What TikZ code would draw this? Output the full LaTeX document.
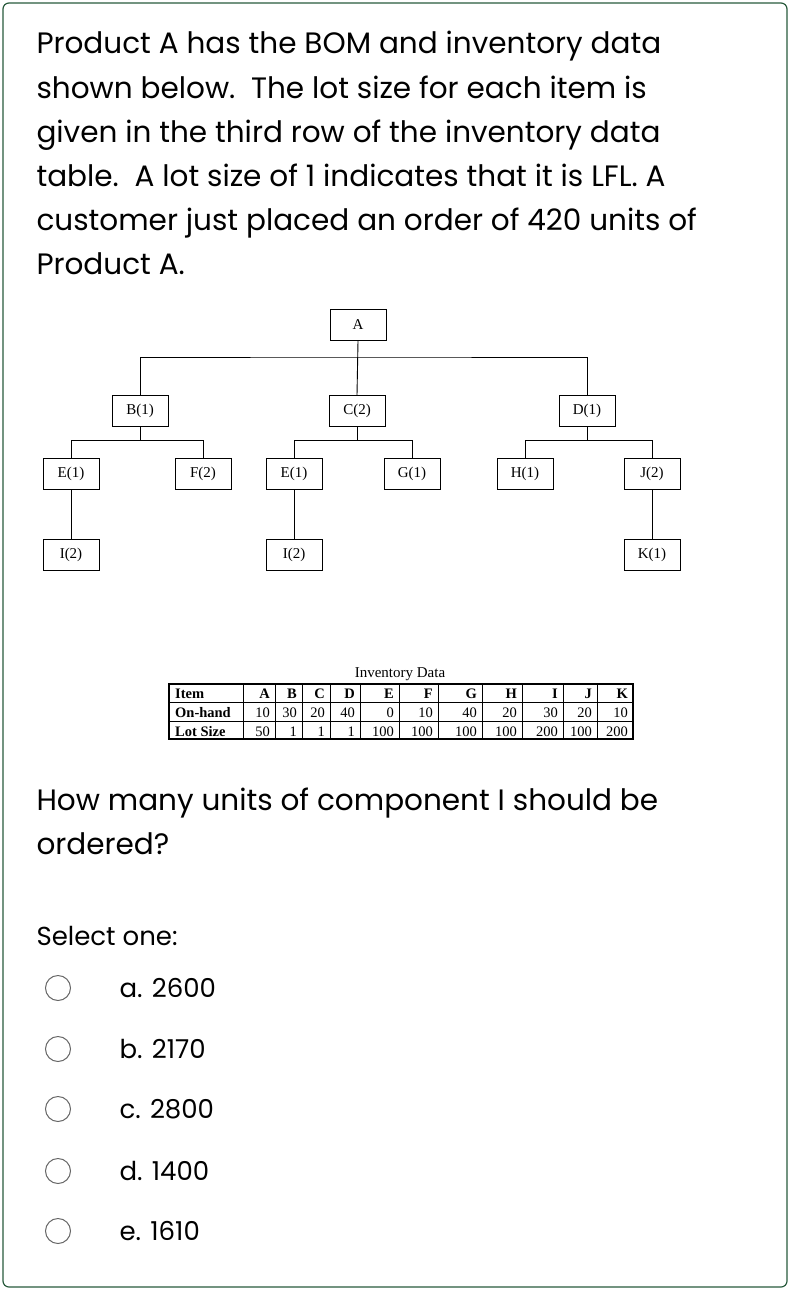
\documentclass[tikz,border=0pt]{standalone}
\usepackage{fontspec}
\setmainfont{Poppins}
\newfontfamily\tms{Liberation Serif}
\begin{document}
\begin{tikzpicture}[x=1pt,y=-1pt,
  bx/.style={draw,line width=0.9pt,minimum width=56pt,minimum height=31pt,inner sep=0pt,font=\tms\fontsize{15}{15}\selectfont},
  ln/.style={line width=0.9pt},
  qt/.style={anchor=base west,font=\fontsize{29.5}{29.5}\selectfont},
  op/.style={anchor=base west,font=\fontsize{26}{26}\selectfont},
  rad/.style={draw=gray!80!black,line width=1pt,circle,minimum size=25pt,inner sep=0pt}]
\useasboundingbox (0,0) rectangle (796,1298);
\draw[rounded corners=6pt,line width=1.2pt,draw={rgb,255:red,40;green,90;blue,60}] (3,3) rectangle (787,1287);
\foreach \t [count=\i] in {Product A has the BOM and inventory data,shown below.\ \ The lot size for each item is,given in the third row of the inventory data,table.\ \ A lot size of 1 indicates that it is LFL. A,customer just placed an order of 420 units of,Product A.}
  \node[qt] (q\i) at (33,{44*\i+10}) {\t};
% tree
\node[bx] (A) at (358,325) {A};
\node[bx] (B) at (140,411) {B(1)};
\node[bx] (C) at (357,411) {C(2)};
\node[bx] (D) at (587,411) {D(1)};
\node[bx] (E1) at (71,474) {E(1)};
\node[bx] (F) at (203,474) {F(2)};
\node[bx] (E2) at (294,474) {E(1)};
\node[bx] (G) at (412,474) {G(1)};
\node[bx] (H) at (525,474) {H(1)};
\node[bx] (J) at (652,474) {J(2)};
\node[bx] (I1) at (71,555) {I(2)};
\node[bx] (I2) at (294,555) {I(2)};
\node[bx] (K) at (652,555) {K(1)};
\draw[ln] (A.south) -- (C.north);
\draw[ln] (B.north) |- (358,357) -| (D.north);
\draw[ln] (B.south) -- (140,440) -| (E1.north); \draw[ln] (140,440) -| (F.north);
\draw[ln] (C.south) -- (357,440) -| (E2.north); \draw[ln] (357,440) -| (G.north);
\draw[ln] (D.south) -- (587,440) -| (H.north); \draw[ln] (587,440) -| (J.north);
\draw[ln] (E1) -- (I1); \draw[ln] (E2) -- (I2); \draw[ln] (J) -- (K);
% table
\node[font=\tms\fontsize{15}{15}\selectfont] (tt) at (400,674) {Inventory Data};
\draw[line width=1.2pt] (169,684) rectangle (633,739);
\foreach \x in {243,275,302,330,360,399,438,482,522,563,597} \draw[line width=0.7pt] (\x,684) -- (\x,739);
\foreach \y in {702,721} \draw[line width=0.7pt] (169,\y) -- (633,\y);
\begin{scope}[every node/.style={font=\tms\fontsize{14.5}{14.5}\selectfont,anchor=base east,inner sep=0pt}]
\node[anchor=base west,font=\tms\bfseries\fontsize{14.5}{14.5}\selectfont] (r1) at (175,698) {Item};
\node[anchor=base west,font=\tms\bfseries\fontsize{14.5}{14.5}\selectfont] (r2) at (175,717) {On-hand};
\node[anchor=base west,font=\tms\bfseries\fontsize{14.5}{14.5}\selectfont] (r3) at (175,736) {Lot Size};
\foreach \r/\a/\b/\c [count=\k] in {275/10/50/A,302/30/1/B,330/20/1/C,360/40/1/D,399/0/100/E,438/10/100/F,482/40/100/G,522/20/100/H,563/30/200/I,597/20/100/J,633/10/200/K}{
  \node[font=\tms\bfseries\fontsize{14.5}{14.5}\selectfont] (h\k) at (\r-5,698) {\c};
  \node (o\k) at (\r-5,717) {\a};
  \node (l\k) at (\r-5,736) {\b};}
\end{scope}
\node[qt] (qa) at (33,810) {How many units of component I should be};
\node[qt] (qb) at (33,854) {ordered?};
\node[op] (sel) at (33,945) {Select one:};
\foreach \t/\y [count=\i] in {a. 2600/988,b. 2170/1049,c. 2800/1109,d. 1400/1171,e. 1610/1231}{
  \node[rad] (r\i) at (58,\y) {};
  \node[op] (o\i) at (116,\y+9) {\t};}
\end{tikzpicture}
\end{document}
